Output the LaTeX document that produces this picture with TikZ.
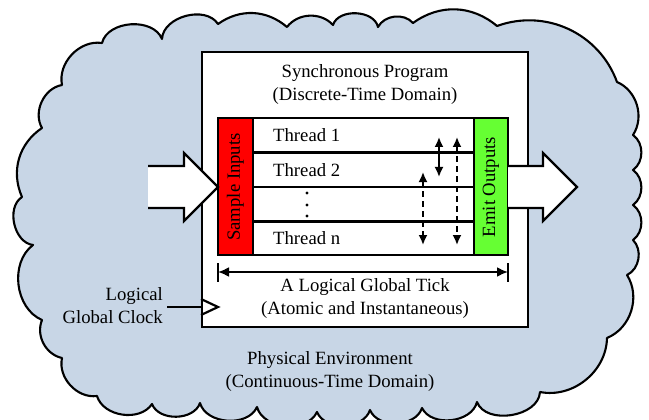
\documentclass[tikz,border=0pt]{standalone}
\usepackage{fontspec}
\setmainfont{Liberation Serif}
\usetikzlibrary{arrows.meta}
\definecolor{cloudfill}{RGB}{200,214,230}
\definecolor{inred}{RGB}{255,0,0}
\definecolor{outgreen}{RGB}{102,255,51}
\begin{document}
\begin{tikzpicture}[x=1pt,y=-1pt,
  txt/.style={font=\fontsize{18.7}{23}\selectfont, inner sep=0pt, align=center},
  boxline/.style={line width=2.2pt},
  blockarrow/.style={line width=2.2pt, line join=miter},
  dbl/.style={{Latex[length=10pt,width=9pt]}-{Latex[length=10pt,width=9pt]}, line width=1.8pt},
  dsh/.style={dash pattern=on 6pt off 4pt}]
\useasboundingbox (0,0) rectangle (649,420);
% cloud
\draw[line width=2.1pt, fill=cloudfill, line join=round]
  (102,43) to[bend left=72] (162,39) to[bend left=72] (218,24)
  to[bend left=38] (287,27) to[bend left=50] (333,25) to[bend left=75] (378,27)
  to[bend left=55] (413,23) to[bend left=38] (497,26) to[bend left=45] (617,82)
  to[bend left=50] (633,135) to[bend left=55] (633,170) to[bend left=55] (633,205)
  to[bend left=55] (633,240) to[bend left=55] (627,275) to[bend left=50] (607,338)
  to[bend left=50] (540,392) to[bend left=78] (477,402) to[bend left=70] (422,408)
  to[bend left=70] (370,410) to[bend left=70] (317,412) to[bend left=70] (257,407)
  to[bend left=70] (200,403) to[bend left=70] (152,404) to[bend left=65] (97,396)
  to[bend left=55] (62,358) to[bend left=50] (42,320) to[bend left=60] (33,245)
  to[bend left=70] (22,197) to[bend left=40] (42,128) to[bend left=55] (62,85)
  to[bend left=55] (102,43) -- cycle;
% program box
\draw[boxline, fill=white] (202,52) rectangle (528,327);
\node[txt] (title) at (365,85) {Synchronous Program\\(Discrete-Time Domain)};
% thread area
\draw[boxline, fill=white] (253,118) rectangle (474,255);
\draw[boxline, fill=inred] (218,118) rectangle (253,255);
\draw[boxline, fill=outgreen] (474,118) rectangle (508,255);
\node[txt, rotate=90] (sample) at (235.5,187) {Sample Inputs};
\node[txt, rotate=90] (emit) at (491,187) {Emit Outputs};
\foreach \y in {152.5,187,221.5} \draw[boxline] (253,\y) -- (474,\y);
\node[txt, anchor=west] (t1) at (273,135) {Thread 1};
\node[txt, anchor=west] (t2) at (273,170) {Thread 2};
\node[txt, anchor=west] (tn) at (273,238) {Thread n};
\foreach \y in {193,205,216} \fill (307,\y) circle (1.7pt);
% inter-thread arrows
\coordinate (a1s) at (439,137); \coordinate (a1e) at (439,177);
\coordinate (a2s) at (457,137); \coordinate (a2e) at (457,245);
\coordinate (a3s) at (423,172); \coordinate (a3e) at (423,245);
\draw[dbl] (a1s) -- (a1e);
\draw[dbl, dsh] (a2s) -- (a2e);
\draw[dbl, dsh] (a3s) -- (a3e);
% input block arrow
\fill[white] (148,166) -- (184,166) -- (184,153) -- (218,187) -- (184,221) -- (184,208) -- (148,208) -- cycle;
\draw[blockarrow] (148,166) -- (184,166) -- (184,153) -- (218,187) -- (184,221) -- (184,208) -- (148,208);
% output block arrow
\draw[blockarrow, fill=white] (508,166) -- (543,166) -- (543,153) -- (577,187) -- (543,221) -- (543,208) -- (508,208);
% tick
\coordinate (tl) at (218,272); \coordinate (tr) at (508,272);
\draw[line width=2.2pt] (218,263) -- (218,282);
\draw[line width=2.2pt] (508,263) -- (508,282);
\draw[{Latex[length=11pt,width=10pt]}-{Latex[length=11pt,width=10pt]}, line width=2pt] (tl) -- (tr);
\node[txt] (tick) at (365,299) {A Logical Global Tick\\(Atomic and Instantaneous)};
% clock
\coordinate (clk) at (201,307);
\node[txt, align=right, anchor=east] (clock) at (163,306) {Logical\\Global Clock};
\draw[line width=2.2pt] (167,307) -- (clk);
\draw[line width=2.2pt, line join=miter] (201,299) -- (218,307) -- (201,315);
% environment
\node[txt] (env) at (330,372) {Physical Environment\\(Continuous-Time Domain)};
\end{tikzpicture}
\end{document}
